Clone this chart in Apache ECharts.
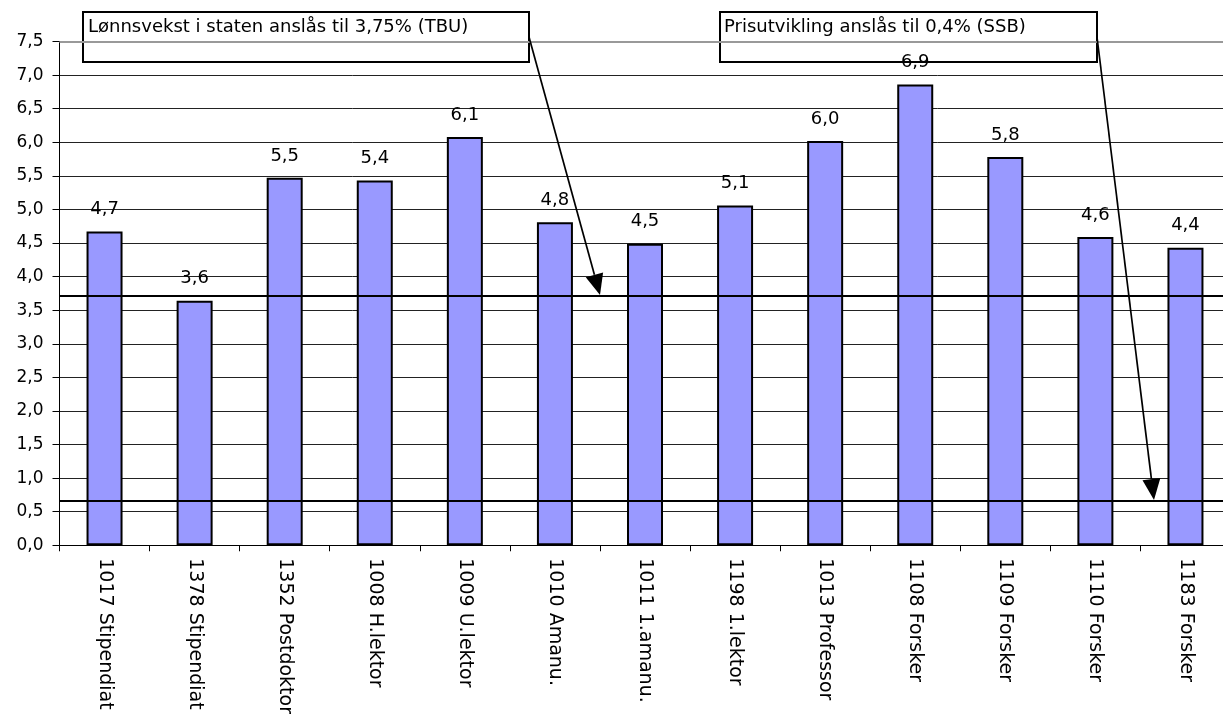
<!DOCTYPE html>
<html><head><meta charset="utf-8">
<script src="https://cdn.jsdelivr.net/npm/echarts@6/dist/echarts.min.js"></script>
<style>html,body{margin:0;padding:0;background:#fff;overflow:hidden;width:1223px;height:717px}#c{width:1240px;height:717px}</style>
</head><body><div id="c"></div>
<script>
const categories = ['1017 Stipendiat','1378 Stipendiat','1352 Postdoktor','1008 H.lektor','1009 U.lektor','1010 Amanu.','1011 1.amanu.','1198 1.lektor','1013 Professor','1108 Forsker','1109 Forsker','1110 Forsker','1183 Forsker'];
const values = [4.67, 3.64, 5.47, 5.43, 6.08, 4.81, 4.49, 5.06, 6.02, 6.86, 5.78, 4.59, 4.43];
const wageLine = 3.71;
const priceLine = 0.66;
const yMin = 0, yMax = 7.5, yStep = 0.5;
const note1 = 'Lønnsvekst i staten anslås til 3,75% (TBU)';
const note2 = 'Prisutvikling anslås til 0,4% (SSB)';

const FONT = 'DejaVu Sans';
const chart = echarts.init(document.getElementById('c'));
const fmt = v => v.toFixed(1).replace('.', ',');

chart.setOption({
  animation: false,
  backgroundColor: '#fff',
  grid: { left: 59.5, top: 41.5, width: 1171, height: 505, containLabel: false },
  xAxis: {
    type: 'category', data: categories,
    axisLine: { lineStyle: { color: '#000', width: 1 } },
    axisTick: { show: true, length: 6, lineStyle: { color: '#000' } },
    axisLabel: { rotate: -90, margin: 13, color: '#000', fontFamily: FONT, fontSize: 19, interval: 0 }
  },
  yAxis: {
    type: 'value', min: yMin, max: yMax, interval: yStep,
    axisLine: { show: true, lineStyle: { color: '#000', width: 1 } },
    axisTick: { show: true, length: 7, lineStyle: { color: '#000' } },
    axisLabel: { formatter: fmt, color: '#000', fontFamily: FONT, fontSize: 17, margin: 16 },
    splitLine: { show: true, lineStyle: { color: '#222', width: 1 } }
  },
  series: [{
    type: 'bar', data: values, barWidth: 36, z: 4,
    itemStyle: { color: '#9999FF', borderColor: '#000', borderWidth: 2 },
    label: { show: true, position: 'top', distance: 13, formatter: p => fmt(p.value), color: '#000', fontFamily: FONT, fontSize: 18 },
    markLine: {
      silent: true, symbol: 'none', label: { show: false },
      data: [
        { yAxis: wageLine, lineStyle: { color: '#000', width: 2, type: 'solid' } },
        { yAxis: priceLine, lineStyle: { color: '#000', width: 2, type: 'solid' } }
      ]
    }
  }, {
    type: 'line', data: [], z: 1, silent: true,
    markLine: {
      silent: true, symbol: 'none', label: { show: false },
      data: [{ yAxis: yMax, lineStyle: { color: '#999', width: 2, type: 'solid' } }]
    }
  }]
});

function arrow(x1, y1, x2, y2) {
  const dx = x2 - x1, dy = y2 - y1, L = Math.hypot(dx, dy);
  const ux = dx / L, uy = dy / L, len = 21, hw = 9;
  const bx = x2 - ux * len, by = y2 - uy * len;
  return [
    { type: 'line', shape: { x1, y1, x2: bx, y2: by }, style: { stroke: '#000', lineWidth: 1.7 }, z: 10 },
    { type: 'polygon', shape: { points: [[x2, y2], [bx - uy * hw, by + ux * hw], [bx + uy * hw, by - ux * hw]] }, style: { fill: '#000' }, z: 10 }
  ];
}

const yWage = chart.convertToPixel({ yAxisIndex: 0 }, wageLine);
const yPrice = chart.convertToPixel({ yAxisIndex: 0 }, priceLine);

chart.setOption({
  graphic: [
    { type: 'rect', shape: { x: 83, y: 12, width: 446, height: 50 }, style: { fill: '#fff', stroke: '#000', lineWidth: 2 }, z: 3 },
    { type: 'text', x: 88, y: 18, style: { text: note1, fill: '#000', font: '18px "DejaVu Sans"' }, z: 3 },
    { type: 'rect', shape: { x: 720, y: 12, width: 377, height: 50 }, style: { fill: '#fff', stroke: '#000', lineWidth: 2 }, z: 3 },
    { type: 'text', x: 724, y: 18, style: { text: note2, fill: '#000', font: '18px "DejaVu Sans"' }, z: 3 },
    ...arrow(529, 37, 600, yWage - 1),
    ...arrow(1097, 37, 1154, yPrice - 1)
  ]
});
</script></body></html>
